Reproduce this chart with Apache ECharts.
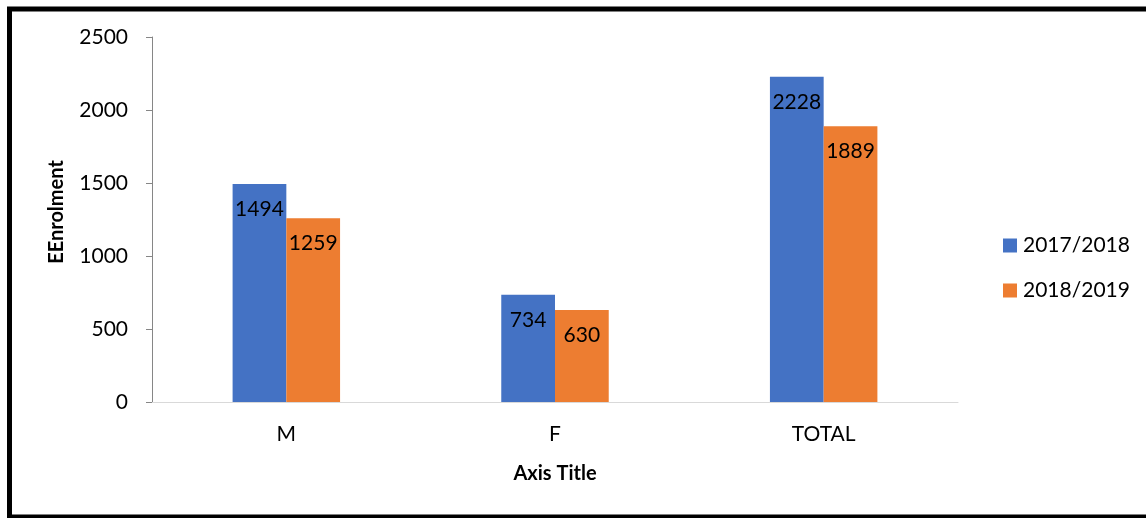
<!DOCTYPE html>
<html>
<head>
<meta charset="utf-8">
<script src="https://cdn.jsdelivr.net/npm/echarts@6/dist/echarts.min.js"></script>
<style>
html,body{margin:0;padding:0;background:#fff;}
#chart{width:1146px;height:518px;}
</style>
</head>
<body>
<div id="chart"></div>
<script>
var categories = ['M', 'F', 'TOTAL'];
var series2017 = [1494, 734, 2228];
var series2018 = [1259, 630, 1889];
var seriesNames = ['2017/2018', '2018/2019'];
var yTicks = {min: 0, max: 2500, interval: 500};
var yAxisTitle = 'EEnrolment';
var xAxisTitle = 'Axis Title';

var FONT = 'Lato';
var chart = echarts.init(document.getElementById('chart'), null, {renderer: 'canvas'});
var labelCfg = {
  show: true,
  position: 'insideTop',
  distance: 15,
  color: '#000',
  fontFamily: FONT,
  fontSize: 21
};
chart.setOption({
  animation: false,
  backgroundColor: '#fff',
  textStyle: {fontFamily: FONT},
  graphic: [{
    type: 'rect',
    shape: {x: 9.5, y: 9, width: 1160, height: 508},
    style: {fill: 'none', stroke: '#000', lineWidth: 5},
    silent: true,
    z: 100
  }, {
    type: 'text',
    x: 57,
    y: 212,
    rotation: Math.PI / 2,
    style: {
      text: yAxisTitle,
      fill: '#000',
      fontFamily: FONT,
      fontSize: 20,
      fontWeight: 'bold',
      textAlign: 'center',
      textVerticalAlign: 'middle'
    },
    silent: true
  }],
  grid: {left: 152, right: 188, top: 37, bottom: 116, containLabel: false},
  legend: {
    orient: 'vertical',
    left: 998,
    top: 230,
    itemWidth: 14,
    itemHeight: 14,
    itemGap: 24,
    icon: 'rect',
    textStyle: {fontFamily: FONT, fontSize: 21, color: '#000', padding: [0, 0, 0, 1]},
    data: seriesNames
  },
  xAxis: {
    type: 'category',
    data: categories,
    name: xAxisTitle,
    nameLocation: 'middle',
    nameGap: 62,
    nameTextStyle: {fontFamily: FONT, fontSize: 20, fontWeight: 'bold', color: '#000'},
    axisLine: {show: true, lineStyle: {color: '#d9d9d9', width: 1}},
    axisTick: {show: false},
    axisLabel: {fontFamily: FONT, fontSize: 21, color: '#000', margin: 22},
    splitLine: {show: false}
  },
  yAxis: {
    type: 'value',
    min: yTicks.min,
    max: yTicks.max,
    interval: yTicks.interval,
    axisLine: {show: true, lineStyle: {color: '#868686', width: 1}},
    axisTick: {show: true, length: 6, lineStyle: {color: '#868686'}},
    axisLabel: {fontFamily: FONT, fontSize: 21, color: '#000', margin: 24,
      formatter: function (v) { return String(v); }},
    splitLine: {show: false}
  },
  series: [{
    name: seriesNames[0],
    type: 'bar',
    data: series2017,
    barGap: '0%',
    barCategoryGap: '60%',
    itemStyle: {color: '#4472C4'},
    label: labelCfg
  }, {
    name: seriesNames[1],
    type: 'bar',
    data: series2018,
    barGap: '0%',
    barCategoryGap: '60%',
    itemStyle: {color: '#ED7D31'},
    label: labelCfg
  }]
});
</script>
</body>
</html>
